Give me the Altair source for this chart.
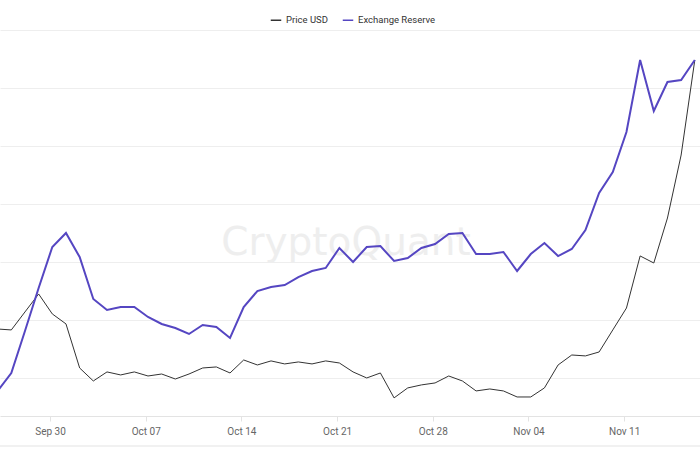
import altair as alt
import pandas as pd

# Daily observations (stamped 04:00 UTC), Sep 26 2024 .. Nov 16 2024
dates = pd.date_range("2024-09-26 04:00", "2024-11-16 04:00", freq="D").strftime("%Y-%m-%dT%H:%M:%SZ").tolist()

price_usd = [
    0.1422, 0.1414, 0.1569, 0.1724, 0.1552, 0.1466, 0.1086, 0.0974, 0.1052, 0.1026,
    0.1052, 0.1017, 0.1034, 0.0991, 0.1034, 0.1086, 0.1095, 0.1043, 0.1155, 0.1112,
    0.1147, 0.1121, 0.1138, 0.1121, 0.1147, 0.1129, 0.1052, 0.1000, 0.1043, 0.0828,
    0.0914, 0.0940, 0.0957, 0.1017, 0.0974, 0.0888, 0.0905, 0.0888, 0.0836, 0.0836,
    0.0914, 0.1112, 0.1198, 0.1190, 0.1224, 0.1414, 0.1603, 0.2052, 0.1991, 0.2379,
    0.2922, 0.3741,
]

exchange_reserve = [
    97.76, 100.86, 108.10, 115.52, 122.59, 125.00, 120.86, 113.62, 111.72, 112.24,
    112.24, 110.52, 109.31, 108.62, 107.59, 109.14, 108.79, 106.90, 112.24, 115.00,
    115.69, 116.03, 117.41, 118.45, 118.97, 122.41, 120.00, 122.59, 122.76, 120.17,
    120.69, 122.41, 123.10, 124.83, 125.00, 121.38, 121.38, 121.72, 118.45, 121.38,
    123.28, 121.03, 122.24, 125.52, 131.90, 135.52, 142.41, 154.83, 146.03, 151.03,
    151.38, 154.83,
]

series_names = ["Price USD", "Exchange Reserve"]
series_colors = ["#333333", "#5546c2"]
tick_dates = [(2024, 9, 30), (2024, 10, 7), (2024, 10, 14), (2024, 10, 21),
              (2024, 10, 28), (2024, 11, 4), (2024, 11, 11)]
price_grid = [0.10, 0.15, 0.20, 0.25, 0.30, 0.35, 0.40]

df = pd.DataFrame({"date": dates, "price": price_usd, "reserve": exchange_reserve})

FONT = "Roboto"

x_enc = alt.X(
    "date:T",
    scale=alt.Scale(
        type="utc",
        domain=[
            alt.DateTime(year=2024, month=9, date=26, hours=8, minutes=10, utc=True),
            alt.DateTime(year=2024, month=11, date=16, hours=13, minutes=7, utc=True),
        ],
    ),
    axis=alt.Axis(
        values=[alt.DateTime(year=y, month=m, date=d, utc=True) for (y, m, d) in tick_dates],
        format="%b %d",
        title=None,
        grid=False,
        domainColor="#e3e3e3",
        tickColor="#e3e3e3",
        tickSize=5,
        labelPadding=5,
        labelFontSize=10,
        labelColor="#666666",
        labelFont=FONT,
    ),
)

color_scale = alt.Scale(domain=series_names, range=series_colors)
legend = alt.Legend(
    title=None,
    orient="none",
    legendX=270,
    legendY=-16,
    direction="horizontal",
    symbolType="stroke",
    symbolStrokeWidth=1.5,
    symbolSize=110,
    labelFontSize=9.5,
    labelColor="#333333",
    labelFont=FONT,
    columnPadding=11,
)

watermark = alt.Chart(pd.DataFrame({"t": ["CryptoQuant"]})).mark_text(
    fontSize=39, font="DejaVu Sans", color="#eeeeee", align="center", baseline="alphabetic"
).encode(x=alt.value(346), y=alt.value(225), text="t:N")

bottom_rule = alt.Chart(pd.DataFrame({"a": [0]})).mark_rule(
    color="#e3e3e3", strokeWidth=1
).encode(x=alt.value(0), x2=alt.value(700), y=alt.value(416))

price_line = alt.Chart(df).transform_calculate(
    series="'Price USD'"
).mark_line(strokeWidth=1, clip=True).encode(
    x=x_enc,
    y=alt.Y(
        "price:Q",
        scale=alt.Scale(domain=[0.0672, 0.40], nice=False, zero=False),
        axis=alt.Axis(values=price_grid, labels=False, ticks=False, domain=False,
                      title=None, gridColor="#eeeeee"),
    ),
    color=alt.Color("series:N", scale=color_scale, legend=legend),
)

reserve_line = alt.Chart(df).transform_calculate(
    series="'Exchange Reserve'"
).mark_line(strokeWidth=2, clip=True).encode(
    x=x_enc,
    y=alt.Y(
        "reserve:Q",
        scale=alt.Scale(domain=[93.45, 160], nice=False, zero=False),
        axis=None,
    ),
    color=alt.Color("series:N", scale=color_scale, legend=legend),
)

chart = (
    alt.layer(watermark, bottom_rule, price_line, reserve_line)
    .resolve_scale(y="independent")
    .properties(
        width=700,
        height=386,
        autosize=alt.AutoSizeParams(type="none"),
        padding={"left": 0, "right": 0, "top": 30, "bottom": 34},
        background="white",
    )
    .configure_view(strokeWidth=0)
)

chart.save("out.html", embed_options={"renderer": "svg", "actions": False})
